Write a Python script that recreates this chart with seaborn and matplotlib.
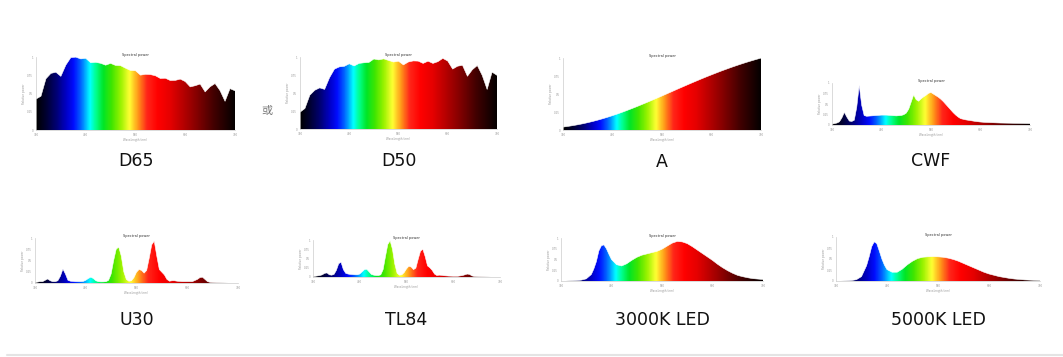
import numpy as np
import matplotlib
matplotlib.use("Agg")
import matplotlib.pyplot as plt
from matplotlib.colors import LinearSegmentedColormap
import seaborn as sns

# illuminant names (labels under each panel)
names = ["D65", "D50", "A", "CWF", "U30", "TL84", "3000K LED", "5000K LED"]

# 10 nm grid for the daylight / incandescent sources
nm10 = list(range(380, 781, 10))
d65 = [50.0, 54.6, 82.8, 91.5, 93.4, 86.7, 104.9, 117.0, 117.8, 114.9, 115.9, 108.8,
       109.4, 107.8, 104.8, 107.7, 104.4, 104.0, 100.0, 96.3, 95.8, 88.7, 90.0, 89.6,
       87.7, 83.3, 83.7, 80.0, 80.2, 82.3, 78.3, 69.7, 71.6, 74.3, 61.6, 69.9, 75.1,
       63.6, 46.4, 66.8, 63.4]
d50 = [24.5, 29.9, 49.3, 56.5, 60.0, 57.8, 74.8, 87.3, 90.6, 91.4, 95.1, 92.0, 95.7,
       96.6, 97.1, 102.1, 100.8, 102.3, 100.0, 97.7, 98.9, 93.5, 97.7, 99.3, 99.0,
       95.7, 98.9, 95.7, 98.2, 103.0, 99.1, 87.4, 91.6, 92.9, 76.9, 86.5, 92.6, 78.2,
       57.7, 82.9, 78.3]
illum_a = [9.8, 12.1, 14.7, 17.7, 21.0, 24.7, 28.7, 33.1, 37.8, 42.9, 48.3, 53.9,
           59.9, 66.1, 72.5, 79.1, 86.0, 92.9, 100.0, 107.2, 114.4, 121.7, 129.0,
           136.4, 143.6, 150.8, 158.0, 165.0, 172.0, 178.8, 185.4, 191.9, 198.3,
           204.4, 210.4, 216.1, 221.7, 227.0, 232.1, 237.0, 241.7]

# fluorescent sources (relative)
cwf_nm = [380, 390, 395, 400, 405, 410, 415, 420, 425, 430, 435, 440, 445, 450, 460, 470,
          480, 490, 500, 510, 520, 525, 530, 535, 540, 545, 550, 555, 560, 565, 570,
          575, 580, 585, 590, 595, 600, 605, 610, 615, 620, 625, 630, 635, 640, 650,
          660, 670, 680, 690, 700, 720, 740, 760, 780]
cwf = [0.02, 0.05, 0.08, 0.18, 0.32, 0.2, 0.1, 0.09, 0.12, 0.45, 1.00, 0.5, 0.24, 0.22,
       0.23, 0.24, 0.25, 0.25, 0.24, 0.23, 0.24, 0.26, 0.30, 0.40, 0.58, 0.76, 0.64,
       0.60, 0.66, 0.71, 0.75, 0.80, 0.82, 0.78, 0.74, 0.70, 0.65, 0.59, 0.52, 0.45,
       0.38, 0.31, 0.25, 0.20, 0.16, 0.13, 0.11, 0.09, 0.075, 0.065, 0.06, 0.05,
       0.045, 0.04, 0.035]

fl_nm = [380, 385, 390, 395, 400, 405, 410, 415, 420, 425, 430, 435, 440, 445, 450,
         455, 460, 465, 470, 475, 480, 485, 490, 495, 500, 505, 510, 515, 520, 525,
         530, 535, 540, 545, 550, 555, 560, 565, 570, 575, 580, 585, 590, 595, 600,
         605, 610, 615, 620, 625, 630, 635, 640, 645, 650, 655, 660, 665, 670, 680,
         690, 700, 705, 710, 715, 720, 725, 730, 740, 760, 780]
u30 = [0.01, 0.02, 0.03, 0.03, 0.06, 0.09, 0.05, 0.03, 0.03, 0.05, 0.15, 0.31, 0.20,
       0.06, 0.04, 0.035, 0.03, 0.03, 0.03, 0.035, 0.06, 0.10, 0.13, 0.10, 0.05, 0.03,
       0.025, 0.025, 0.03, 0.06, 0.20, 0.50, 0.75, 0.80, 0.60, 0.25, 0.08, 0.04, 0.05,
       0.12, 0.24, 0.30, 0.28, 0.22, 0.28, 0.55, 0.85, 0.93, 0.60, 0.30, 0.24, 0.18,
       0.08, 0.04, 0.05, 0.05, 0.04, 0.035, 0.03, 0.03, 0.03, 0.08, 0.12, 0.13, 0.08,
       0.03, 0.015, 0.01, 0.005, 0.0, 0.0]
tl84 = [0.01, 0.02, 0.03, 0.04, 0.06, 0.10, 0.11, 0.06, 0.05, 0.07, 0.18, 0.36, 0.40,
        0.20, 0.10, 0.08, 0.07, 0.065, 0.06, 0.06, 0.08, 0.14, 0.20, 0.21, 0.14, 0.07,
        0.05, 0.04, 0.04, 0.06, 0.20, 0.55, 0.88, 0.98, 0.75, 0.35, 0.10, 0.05, 0.06,
        0.12, 0.22, 0.29, 0.27, 0.20, 0.24, 0.48, 0.70, 0.75, 0.55, 0.30, 0.25, 0.18,
        0.08, 0.04, 0.05, 0.045, 0.035, 0.03, 0.025, 0.02, 0.02, 0.04, 0.06, 0.08,
        0.07, 0.03, 0.015, 0.01, 0.005, 0.0, 0.0]

# LED sources
led_nm = [380, 390, 400, 410, 420, 430, 440, 445, 450, 455, 460, 465, 470, 475, 480,
          490, 500, 510, 520, 530, 540, 550, 560, 570, 580, 590, 600, 610, 620, 630,
          640, 650, 660, 670, 680, 690, 700, 710, 720, 730, 740, 750, 760, 770, 780]
led3000 = [0.0, 0.0, 0.005, 0.01, 0.02, 0.05, 0.15, 0.28, 0.45, 0.70, 0.82, 0.84,
           0.75, 0.62, 0.50, 0.38, 0.35, 0.40, 0.48, 0.55, 0.60, 0.63, 0.66, 0.69,
           0.74, 0.81, 0.88, 0.92, 0.91, 0.87, 0.80, 0.72, 0.64, 0.56, 0.48, 0.39,
           0.31, 0.24, 0.18, 0.13, 0.10, 0.075, 0.055, 0.045, 0.035]
led5000 = [0.0, 0.0, 0.003, 0.01, 0.03, 0.10, 0.35, 0.55, 0.78, 0.89, 0.85, 0.68,
           0.50, 0.36, 0.26, 0.20, 0.20, 0.27, 0.37, 0.45, 0.51, 0.54, 0.55, 0.555,
           0.55, 0.54, 0.52, 0.49, 0.45, 0.40, 0.35, 0.30, 0.25, 0.20, 0.16, 0.13,
           0.10, 0.08, 0.06, 0.045, 0.035, 0.025, 0.02, 0.015, 0.01]

series = [(nm10, d65), (nm10, d50), (nm10, illum_a), (cwf_nm, cwf),
          (fl_nm, u30), (fl_nm, tl84), (led_nm, led3000), (led_nm, led5000)]
y_top = [118, 105, 242, 1.06, 1.0, 1.0, 1.0, 1.0]

# panel boxes in pixels: x0, x1, y_top, y_bottom
boxes = [(36, 235, 57, 130), (300, 497, 57, 129), (563, 761, 58, 130), (832, 1030, 83, 125),
         (35, 238, 238, 283), (313, 500, 240, 277), (561, 763, 238, 281), (836, 1040, 237, 281)]
label_y = [161, 161, 162, 161, 320, 320, 320, 320]

# wavelength -> colour
stops = [(380, (0, 0, 0)), (400, (0, 0, 0.2)), (420, (0, 0, 0.45)), (440, (0, 0, 0.78)),
         (455, (0, 0.05, 1)), (470, (0, 0.4, 1)), (488, (0, 1, 1)), (500, (0, 1, 0.55)),
         (515, (0, 0.9, 0.15)), (532, (0.25, 0.9, 0)), (550, (0.6, 0.95, 0)),
         (568, (1, 1, 0.2)), (585, (1, 0.6, 0.1)), (603, (1, 0.15, 0.1)), (625, (1, 0, 0)),
         (650, (0.9, 0, 0)), (700, (0.55, 0, 0)), (740, (0.25, 0, 0)), (780, (0.02, 0, 0))]
spec_cmap = LinearSegmentedColormap.from_list(
    "spec", [((w - 380) / 400, c) for w, c in stops])

sns.set_style("white")
W, H = 1063, 357
fig = plt.figure(figsize=(W / 100, H / 100), dpi=100)

grad = np.linspace(380, 780, 400).reshape(1, -1)

for i, (name, (xs, ys)) in enumerate(zip(names, series)):
    x0, x1, yt, yb = boxes[i]
    ax = fig.add_axes([x0 / W, 1 - yb / H, (x1 - x0) / W, (yb - yt) / H])
    ax.set_xlim(380, 780)
    ax.set_ylim(0, y_top[i])
    im = ax.imshow(grad, cmap=spec_cmap, extent=[380, 780, 0, y_top[i]],
                   aspect="auto", origin="lower", interpolation="bilinear", zorder=1)
    poly = ax.fill_between(xs, ys, 0, color="none", lw=0)
    path = poly.get_paths()[0]
    im.set_clip_path(path, transform=ax.transData)
    sns.lineplot(x=xs, y=ys, ax=ax, color="white", lw=0.4, zorder=2)

    ax.set_xticks([380, 480, 580, 680, 780])
    ax.set_yticks(np.linspace(0, y_top[i], 5))
    ax.set_xticklabels(["380", "480", "580", "680", "780"])
    ax.set_yticklabels(["0", "0.25", "0.5", "0.75", "1"])
    ax.tick_params(labelsize=2, colors="#999999", length=1, width=0.3, pad=1)
    ax.set_xlabel("Wavelength (nm)", fontsize=2, color="#999999", labelpad=1)
    ax.set_ylabel("Relative power", fontsize=2, color="#999999", labelpad=1)
    ax.set_title("Spectral power", fontsize=2.5, color="#333333", pad=1)
    for s in ["top", "right"]:
        ax.spines[s].set_visible(False)
    for s in ["left", "bottom"]:
        ax.spines[s].set_color("#cccccc")
        ax.spines[s].set_linewidth(0.5)

    fig.text((x0 + x1) / 2 / W, 1 - label_y[i] / H, name, fontsize=12.5,
             ha="center", va="center", color="#111111", family="DejaVu Sans")

fig.text(267 / W, 1 - 111 / H, "或", fontsize=8, color="#777777",
         ha="center", va="center", family=["Noto Sans CJK SC", "DejaVu Sans"])
fig.add_artist(plt.Line2D([7 / W, 1], [1 - 355 / H] * 2, color="#e4e4e4", lw=1.5))

fig.savefig("out.png", dpi=100)
